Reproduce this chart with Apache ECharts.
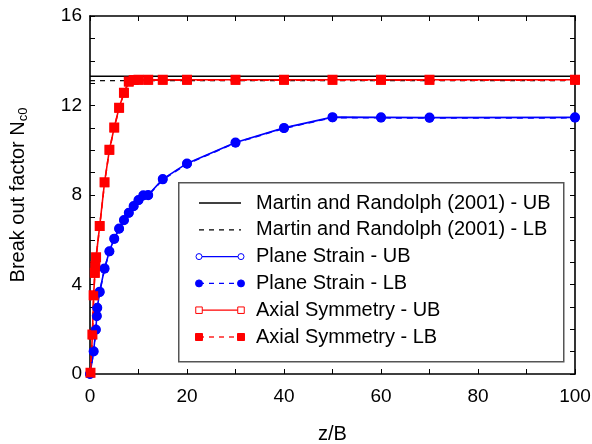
<!DOCTYPE html>
<html>
<head>
<meta charset="utf-8">
<script src="https://cdn.jsdelivr.net/npm/echarts@6/dist/echarts.min.js"></script>
<style>html,body{margin:0;padding:0;background:#fff}#c{width:592px;height:444px}</style>
</head>
<body>
<div id="c"></div>
<script>
// ---- data ----
var martinUB = 13.31;
var martinLB = 13.11;
var zPlane = [0, 0.75, 1.2, 1.4, 1.5, 2, 3, 4, 5, 6, 7, 8, 9, 10, 11, 12, 15, 20, 30, 40, 50, 60, 70, 100];
var ncPlaneUB = [0, 1.02, 1.99, 2.6, 2.96, 3.68, 4.72, 5.49, 6.05, 6.5, 6.88, 7.21, 7.51, 7.78, 7.99, 8.0, 8.71, 9.41, 10.35, 11.0, 11.48, 11.47, 11.46, 11.47];
var ncPlaneLB = [0, 1.0, 1.97, 2.57, 2.95, 3.65, 4.7, 5.47, 6.03, 6.48, 6.86, 7.19, 7.49, 7.76, 7.97, 7.98, 8.69, 9.39, 10.33, 10.98, 11.46, 11.45, 11.44, 11.45];
var zAxial = [0.1, 0.5, 0.75, 1, 1.1, 1.25, 2, 3, 4, 5, 6, 7, 8, 9, 10, 12, 15, 20, 30, 40, 50, 60, 70, 100];
var ncAxialUB = [0.06, 1.77, 3.52, 4.52, 4.82, 5.22, 6.62, 8.57, 10.02, 11.02, 11.9, 12.57, 13.07, 13.14, 13.15, 13.15, 13.15, 13.15, 13.15, 13.15, 13.15, 13.15, 13.15, 13.15];
var ncAxialLB = [0.05, 1.75, 3.5, 4.5, 4.8, 5.2, 6.6, 8.55, 10.0, 11.0, 11.88, 12.55, 13.05, 13.12, 13.13, 13.13, 13.13, 13.13, 13.13, 13.13, 13.13, 13.13, 13.13, 13.13];
var xTicks = [0, 20, 40, 60, 80, 100];
var yTicks = [0, 4, 8, 12, 16];
var legendLabels = [
  'Martin and Randolph (2001) - UB',
  'Martin and Randolph (2001) - LB',
  'Plane Strain - UB',
  'Plane Strain - LB',
  'Axial Symmetry - UB',
  'Axial Symmetry - LB'
];

function pairs(xs, ys) { return xs.map(function (x, i) { return [x, ys[i]]; }); }

var FONT = '"Liberation Sans", Arial, Helvetica, sans-serif';
var BLUE = '#0000ff', RED = '#ff0000';

var chart = echarts.init(document.getElementById('c'), null, { renderer: 'canvas' });

// legend drawn with graphic elements (markers at both ends, like the reference)
var legStyles = [
  { color: '#000', type: 'solid', sym: null },
  { color: '#000', type: 'dashed', sym: null },
  { color: BLUE, type: 'solid', sym: 'circle', fill: false },
  { color: BLUE, type: 'dashed', sym: 'circle', fill: true },
  { color: RED, type: 'solid', sym: 'rect', fill: false },
  { color: RED, type: 'dashed', sym: 'rect', fill: true }
];
var graphics = [{
  type: 'rect', left: 178, top: 182, z: 10,
  shape: { width: 385, height: 179 },
  style: { fill: '#fff', stroke: '#555', lineWidth: 1.5 }
}];
var x1 = 199, x2 = 241, textX = 256, rowY0 = 203, rowH = 26.8;
legendLabels.forEach(function (lab, i) {
  var y = rowY0 + i * rowH;
  var s = legStyles[i];
  graphics.push({
    type: 'line', z: 11,
    shape: { x1: x1, y1: y, x2: x2, y2: y },
    style: { stroke: s.color, lineWidth: 1.3, lineDash: s.type === 'dashed' ? [5, 5] : null }
  });
  if (s.sym) {
    [x1, x2].forEach(function (xx) {
      if (s.sym === 'circle') {
        graphics.push({
          type: 'circle', z: 12,
          shape: { cx: xx, cy: y, r: s.fill ? 3.5 : 3 },
          style: { fill: s.fill ? s.color : '#fff', stroke: s.color, lineWidth: 1 }
        });
      } else {
        var w = s.fill ? 7 : 6.5;
        graphics.push({
          type: 'rect', z: 12,
          shape: { x: xx - w / 2, y: y - w / 2, width: w, height: w },
          style: { fill: s.fill ? s.color : '#fff', stroke: s.color, lineWidth: 1 }
        });
      }
    });
  }
  graphics.push({
    type: 'text', z: 12, x: textX, y: y,
    style: { text: lab, font: '20px ' + FONT, fill: '#000', textVerticalAlign: 'middle', verticalAlign: 'middle' }
  });
});

var axisCommon = {
  type: 'value',
  axisLine: { show: true, onZero: false, lineStyle: { color: '#000', width: 1.6 } },
  axisTick: { show: true, inside: true, length: 5, lineStyle: { color: '#000', width: 1 } },
  splitLine: { show: false }
};

var option = {
  backgroundColor: '#fff',
  animation: false,
  textStyle: { fontFamily: FONT },
  grid: { left: 90, right: 17, top: 16, bottom: 70, containLabel: false, outerBoundsMode: 'none' },
  xAxis: [
    Object.assign({}, axisCommon, {
      min: 0, max: 100, interval: 10, position: 'bottom',
      name: 'z/B', nameLocation: 'middle', nameGap: 50,
      nameTextStyle: { fontSize: 20, color: '#000', fontFamily: FONT },
      axisLabel: {
        fontSize: 19, color: '#000', margin: 13, fontFamily: FONT,
        formatter: function (v) { return xTicks.indexOf(v) >= 0 ? String(v) : ''; }
      }
    }),
    Object.assign({}, axisCommon, {
      min: 0, max: 100, interval: 10, position: 'top',
      axisLabel: { show: false }
    })
  ],
  yAxis: [
    Object.assign({}, axisCommon, {
      min: 0, max: 16, interval: 1, position: 'left',
      name: '{a|Break out factor N}{s|c0}', nameLocation: 'middle', nameGap: 60, nameRotate: 90,
      nameTextStyle: {
        color: '#000', fontFamily: FONT,
        rich: {
          a: { fontSize: 20, fontFamily: FONT, color: '#000' },
          s: { fontSize: 13, fontFamily: FONT, color: '#000', padding: [10, 0, 0, 0] }
        }
      },
      axisLabel: {
        fontSize: 19, color: '#000', margin: 8, fontFamily: FONT,
        formatter: function (v) { return yTicks.indexOf(v) >= 0 ? String(v) : ''; }
      }
    }),
    Object.assign({}, axisCommon, {
      min: 0, max: 16, interval: 1, position: 'right',
      axisLabel: { show: false }
    })
  ],
  graphic: graphics,
  series: [
    {
      name: legendLabels[0], type: 'line', symbol: 'none', silent: true,
      data: [[0, martinUB], [100, martinUB]],
      lineStyle: { color: '#000', width: 1.6, type: 'solid' }, z: 2
    },
    {
      name: legendLabels[1], type: 'line', symbol: 'none', silent: true,
      data: [[0, martinLB], [100, martinLB]],
      lineStyle: { color: '#000', width: 1.2, type: [5, 5] }, z: 2
    },
    {
      name: legendLabels[2], type: 'line', data: pairs(zPlane, ncPlaneUB),
      symbol: 'emptyCircle', symbolSize: 8,
      lineStyle: { color: BLUE, width: 1.6, type: 'solid' },
      itemStyle: { color: BLUE, borderColor: BLUE, borderWidth: 1 }, z: 3
    },
    {
      name: legendLabels[3], type: 'line', data: pairs(zPlane, ncPlaneLB),
      symbol: 'circle', symbolSize: 9.5,
      lineStyle: { color: BLUE, width: 1.6, type: [6, 5] },
      itemStyle: { color: BLUE }, z: 4
    },
    {
      name: legendLabels[4], type: 'line', data: pairs(zAxial, ncAxialUB),
      symbol: 'emptyRect', symbolSize: 8,
      lineStyle: { color: RED, width: 1.6, type: 'solid' },
      itemStyle: { color: RED, borderColor: RED, borderWidth: 1 }, z: 3
    },
    {
      name: legendLabels[5], type: 'line', data: pairs(zAxial, ncAxialLB),
      symbol: 'rect', symbolSize: 9,
      lineStyle: { color: RED, width: 1.6, type: [6, 5] },
      itemStyle: { color: RED }, z: 4
    }
  ]
};
chart.setOption(option);
</script>
</body>
</html>
